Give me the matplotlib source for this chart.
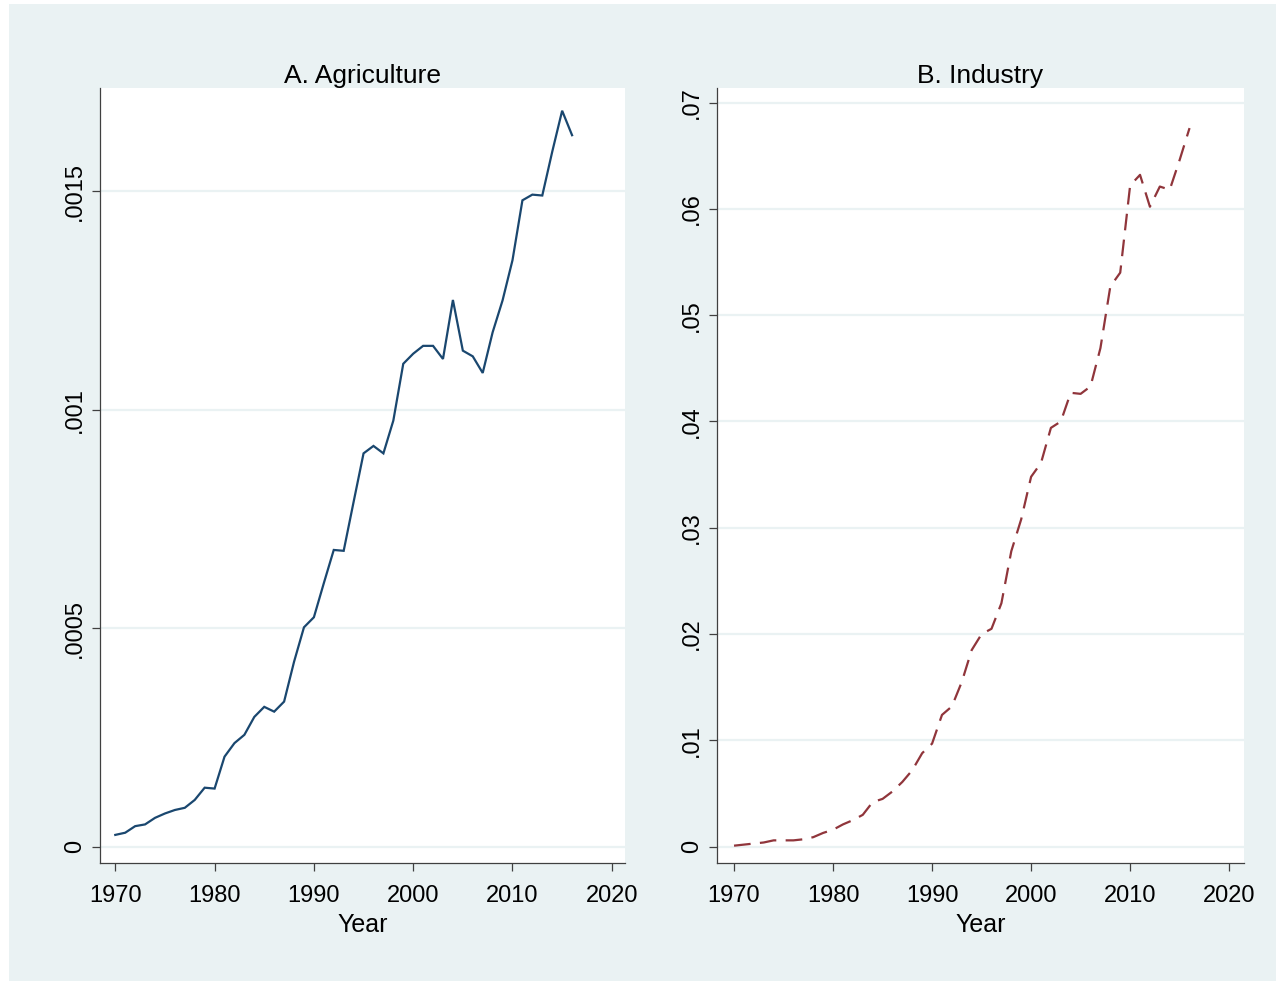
import matplotlib
matplotlib.use("Agg")
import matplotlib.pyplot as plt
from matplotlib.patches import Rectangle

# Yearly series
years = list(range(1970, 2017))

agriculture = [
    0.000027, 0.000032, 0.000047, 0.000051, 0.000066, 0.000076, 0.000084, 0.000089,
    0.000107, 0.000135, 0.000133, 0.000206, 0.000237, 0.000256, 0.000297, 0.000320,
    0.000309, 0.000332, 0.000423, 0.000502, 0.000525, 0.000603, 0.000679, 0.000677,
    0.000789, 0.000900, 0.000917, 0.000900, 0.000975, 0.001105, 0.001128, 0.001146,
    0.001146, 0.001116, 0.001251, 0.001135, 0.001122, 0.001084, 0.001177, 0.001250,
    0.001342, 0.001479, 0.001492, 0.001490, 0.001590, 0.001684, 0.001628,
]

industry = [
    0.0001, 0.0002, 0.0003, 0.0004, 0.0006, 0.0006, 0.0006, 0.0007,
    0.0009, 0.0013, 0.0016, 0.0021, 0.0025, 0.0030, 0.0042, 0.0045,
    0.0052, 0.0061, 0.0072, 0.0088, 0.0097, 0.0124, 0.0132, 0.0155,
    0.0185, 0.0200, 0.0205, 0.0229, 0.0278, 0.0308, 0.0348, 0.0361,
    0.0394, 0.0400, 0.0427, 0.0426, 0.0433, 0.0469, 0.0527, 0.0540,
    0.0622, 0.0632, 0.0602, 0.0621, 0.0618, 0.0646, 0.0676,
]

x_ticks = [1970, 1980, 1990, 2000, 2010, 2020]
agri_ticks = [0, 0.0005, 0.001, 0.0015]
agri_labels = ["0", ".0005", ".001", ".0015"]
ind_ticks = [0, 0.01, 0.02, 0.03, 0.04, 0.05, 0.06, 0.07]
ind_labels = ["0", ".01", ".02", ".03", ".04", ".05", ".06", ".07"]

titles = ["A. Agriculture", "B. Industry"]
x_label = "Year"

# Styling
plt.rcParams["font.family"] = ["Liberation Sans", "DejaVu Sans"]
BG = "#EAF2F3"
NAVY = "#1a476f"
MAROON = "#90353b"
AXIS = "#404040"

W, H = 1276, 981
fig = plt.figure(figsize=(W / 100, H / 100), dpi=100)
fig.patch.set_facecolor("white")
panel = Rectangle((9 / W, 0), 1 - 9 / W, 1 - 4 / H,
                  transform=fig.transFigure, facecolor=BG,
                  edgecolor="none", zorder=-10)
fig.add_artist(panel)


def style_axes(ax, yticks, ylabels, ylim, xlim, title):
    ax.set_facecolor("white")
    ax.set_xlim(*xlim)
    ax.set_ylim(*ylim)
    ax.set_xticks(x_ticks)
    ax.set_xticklabels([str(t) for t in x_ticks])
    ax.set_yticks(yticks)
    ax.set_yticklabels(ylabels)
    for s in ("top", "right"):
        ax.spines[s].set_visible(False)
    for s in ("left", "bottom"):
        ax.spines[s].set_color(AXIS)
        ax.spines[s].set_linewidth(0.9)
    ax.tick_params(axis="both", colors=AXIS, labelcolor="black",
                   labelsize=17, length=6, width=0.9)
    ax.tick_params(axis="x", pad=10)
    ax.tick_params(axis="y", pad=4, labelrotation=90)
    for lab in ax.get_yticklabels():
        lab.set_va("center")
    ax.yaxis.grid(True, color=BG, linewidth=1.6)
    ax.xaxis.grid(False)
    ax.set_axisbelow(True)
    ax.set_title(title, fontsize=19, pad=1)
    ax.set_xlabel(x_label, fontsize=18, labelpad=4)


bottom = 1 - 863 / H
height = (863 - 88) / H

ax1 = fig.add_axes([100 / W, bottom, 525 / W, height])
style_axes(ax1, agri_ticks, agri_labels, (-0.0000373, 0.001736),
           (1968.46, 2021.33), titles[0])
ax1.plot(years, agriculture, color=NAVY, linewidth=1.6, solid_joinstyle="miter")

ax2 = fig.add_axes([717 / W, bottom, 527 / W, height])
style_axes(ax2, ind_ticks, ind_labels, (-0.00153, 0.07137),
           (1968.28, 2021.5), titles[1])
ax2.plot(years, industry, color=MAROON, linewidth=1.6, dashes=(7.5, 4.2))

fig.savefig("out.png", dpi=100, facecolor=fig.get_facecolor())
